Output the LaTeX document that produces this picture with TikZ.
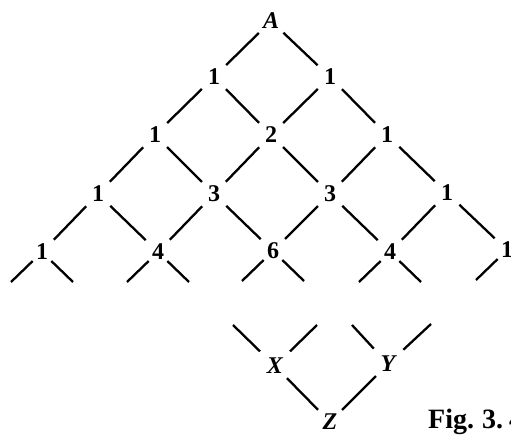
\documentclass[tikz,border=0pt]{standalone}
\usepackage{fontspec}
\setmainfont{Liberation Serif}
\begin{document}
\begin{tikzpicture}[x=1pt,y=-1pt,
  num/.style={inner sep=0pt, text depth=0pt, font=\fontsize{24}{24}\selectfont\bfseries},
  let/.style={inner sep=0pt, text depth=0pt, font=\fontsize{24}{24}\selectfont\bfseries\itshape},
  edge/.style={line width=2.3pt, shorten <=17pt, shorten >=17pt},
  stub/.style={line width=2.3pt, shorten <=13pt},
  topstub/.style={line width=2.3pt, shorten <=21pt}]
\useasboundingbox (0,0) rectangle (511,434);
\clip (0,0) rectangle (511,434);
% nodes
\node[let] (A) at (271,21) {A};
\node[num] (r1a) at (214,77) {1};
\node[num] (r1b) at (330,77) {1};
\node[num] (r2a) at (155,135) {1};
\node[num] (r2b) at (271,135) {2};
\node[num] (r2c) at (387,135) {1};
\node[num] (r3a) at (98,194) {1};
\node[num] (r3b) at (214,194) {3};
\node[num] (r3c) at (330,194) {3};
\node[num] (r3d) at (447,193) {1};
\node[num] (r4a) at (42,252) {1};
\node[num] (r4b) at (158,252) {4};
\node[num] (r4c) at (273,251) {6};
\node[num] (r4d) at (390,252) {4};
\node[num] (r4e) at (507,250) {1};
\node[let] (X) at (275,366) {X};
\node[let] (Y) at (388,364) {Y};
\node[let] (Z) at (330,422) {Z};
\node[inner sep=0pt, anchor=base west, font=\fontsize{28}{28}\selectfont\bfseries] (cap) at (428,428) {Fig.\kern1pt\ 3.\kern6pt4};
% free ends
\coordinate (s4al) at (11,282); \coordinate (s4ar) at (73,282);
\coordinate (s4bl) at (127,282); \coordinate (s4br) at (189,282);
\coordinate (s4cl) at (242,281); \coordinate (s4cr) at (304,281);
\coordinate (s4dl) at (359,282); \coordinate (s4dr) at (421,282);
\coordinate (s4el) at (476,280);
\coordinate (sXl) at (233,325); \coordinate (sXr) at (317,325);
\coordinate (sYl) at (352,325); \coordinate (sYr) at (431,324);
% edges
\draw[edge] (A.center) -- (r1a.center);
\draw[edge] (A.center) -- (r1b.center);
\draw[edge] (r1a.center) -- (r2a.center);
\draw[edge] (r1a.center) -- (r2b.center);
\draw[edge] (r1b.center) -- (r2b.center);
\draw[edge] (r1b.center) -- (r2c.center);
\draw[edge] (r2a.center) -- (r3a.center);
\draw[edge] (r2a.center) -- (r3b.center);
\draw[edge] (r2b.center) -- (r3b.center);
\draw[edge] (r2b.center) -- (r3c.center);
\draw[edge] (r2c.center) -- (r3c.center);
\draw[edge] (r2c.center) -- (r3d.center);
\draw[edge] (r3a.center) -- (r4a.center);
\draw[edge] (r3a.center) -- (r4b.center);
\draw[edge] (r3b.center) -- (r4b.center);
\draw[edge] (r3b.center) -- (r4c.center);
\draw[edge] (r3c.center) -- (r4c.center);
\draw[edge] (r3c.center) -- (r4d.center);
\draw[edge] (r3d.center) -- (r4d.center);
\draw[edge] (r3d.center) -- (r4e.center);
\draw[stub] (r4a.center) -- (s4al);
\draw[stub] (r4a.center) -- (s4ar);
\draw[stub] (r4b.center) -- (s4bl);
\draw[stub] (r4b.center) -- (s4br);
\draw[stub] (r4c.center) -- (s4cl);
\draw[stub] (r4c.center) -- (s4cr);
\draw[stub] (r4d.center) -- (s4dl);
\draw[stub] (r4d.center) -- (s4dr);
\draw[stub] (r4e.center) -- (s4el);
\draw[topstub] (X.center) -- (sXl);
\draw[topstub] (X.center) -- (sXr);
\draw[topstub] (Y.center) -- (sYl);
\draw[topstub] (Y.center) -- (sYr);
\draw[edge] (X.center) -- (Z.center);
\draw[edge] (Y.center) -- (Z.center);
\end{tikzpicture}
\end{document}
